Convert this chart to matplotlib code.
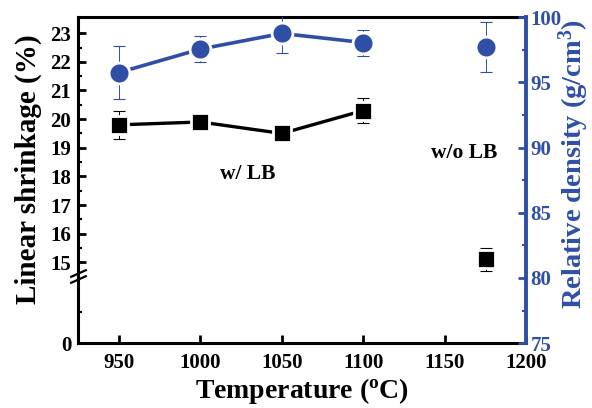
import numpy as np
import matplotlib
matplotlib.use("Agg")
import matplotlib.pyplot as plt
from matplotlib.ticker import FixedLocator

plt.rcParams["font.family"] = "Liberation Serif"
plt.rcParams["font.weight"] = "bold"
plt.rcParams["mathtext.fontset"] = "custom"
plt.rcParams["mathtext.rm"] = "Liberation Serif:bold"
plt.rcParams["mathtext.bf"] = "Liberation Serif:bold"
plt.rcParams["mathtext.it"] = "Liberation Serif:bold"

BLUE = "#2f4fa6"

# data: with LB binder (950-1100 C) and without (1175 C)
temp_lb = [950, 1000, 1050, 1100]
shrink_lb = [19.8, 19.9, 19.5, 20.3]
shrink_lb_err = [0.5, 0.0, 0.0, 0.45]
dens_lb = [95.75, 97.55, 98.75, 98.05]
dens_lb_err = [2.0, 1.0, 1.5, 1.0]

temp_nolb = [1175]
shrink_nolb = [15.1]
shrink_nolb_err = [0.4]
dens_nolb = [97.7]
dens_nolb_err = [1.9]

left_ticks = [0, 15, 16, 17, 18, 19, 20, 21, 22, 23]
right_ticks = [75, 80, 85, 90, 95, 100]
x_ticks = [950, 1000, 1050, 1100, 1150, 1200]

# broken left axis: everything below the break is squeezed
BRK = 14.44
LOW = 12.18


def fwd(v):
    v = np.asarray(v, dtype=float)
    return np.where(v >= BRK, v, LOW + v * (BRK - LOW) / BRK)


def inv(u):
    u = np.asarray(u, dtype=float)
    return np.where(u >= BRK, u, (u - LOW) * BRK / (BRK - LOW))


fig = plt.figure(figsize=(5.92, 4.08), dpi=100)
ax = fig.add_axes([0.132, 0.159, 0.757, 0.799])
ax.set_yscale("function", functions=(fwd, inv))
ax2 = ax.twinx()

# shrinkage (squares)
ax.errorbar(temp_lb, shrink_lb, yerr=shrink_lb_err, fmt="none", ecolor="black",
            elinewidth=0.7, capsize=4, capthick=0.8, zorder=2)
ax.plot(temp_lb, shrink_lb, "-s", color="black", lw=2.4, ms=13,
        mec="white", mew=2, zorder=3)
ax.errorbar(temp_nolb, shrink_nolb, yerr=shrink_nolb_err, fmt="none", ecolor="black",
            elinewidth=0.7, capsize=4, capthick=0.8, zorder=2)
ax.plot(temp_nolb, shrink_nolb, "s", color="black", ms=13, mec="white", mew=2, zorder=3)

# relative density (circles)
ax2.errorbar(temp_lb, dens_lb, yerr=dens_lb_err, fmt="none", ecolor=BLUE,
             elinewidth=0.7, capsize=4, capthick=0.8, zorder=2)
ax2.plot(temp_lb, dens_lb, "-o", color=BLUE, lw=2.6, ms=15,
         mec="white", mew=2, zorder=3)
ax2.errorbar(temp_nolb, dens_nolb, yerr=dens_nolb_err, fmt="none", ecolor=BLUE,
             elinewidth=0.7, capsize=4, capthick=0.8, zorder=2)
ax2.plot(temp_nolb, dens_nolb, "o", color=BLUE, ms=15, mec="white", mew=2, zorder=3)

ax.set_xlim(925, 1200)
ax.set_ylim(0, 23.56)
ax2.set_ylim(75, 100)

ax.xaxis.set_major_locator(FixedLocator(x_ticks))
ax.yaxis.set_major_locator(FixedLocator(left_ticks))
ax.yaxis.set_minor_locator(FixedLocator([7] + list(np.arange(15.5, 23.5, 1.0))))
ax2.yaxis.set_major_locator(FixedLocator(right_ticks))
ax2.yaxis.set_minor_locator(FixedLocator(np.arange(77.5, 100, 5.0)))

ax.tick_params(axis="both", which="major", direction="in", length=6, width=2,
               labelsize=15)
ax.tick_params(axis="y", which="minor", direction="in", length=3, width=1.5)
ax.tick_params(axis="x", pad=7)
ax.tick_params(axis="y", pad=5)
ax2.tick_params(axis="y", which="major", direction="in", length=6, width=2,
                colors=BLUE, labelsize=15, pad=3)
ax2.tick_params(axis="y", which="minor", direction="in", length=3, width=1.5,
                colors=BLUE)

for s in ["left", "bottom", "top"]:
    ax.spines[s].set_linewidth(2.2)
ax2.spines["right"].set_color(BLUE)
ax2.spines["right"].set_linewidth(2.8)
ax2.spines["left"].set_visible(False)
ax2.spines["top"].set_visible(False)
ax2.spines["bottom"].set_visible(False)

# break marks on the left spine
tr = ax.get_yaxis_transform()
for yb in [14.62, 14.3]:
    ax.plot([0], [yb], transform=tr, marker=[(-1, -0.45), (1, 0.45)], ms=12,
            mew=1.6, color="black", clip_on=False, zorder=5)

ax.set_xlabel("Temperature ($^{\\rm o}$C)", fontsize=20, fontweight="bold",
              labelpad=2)
ax.set_ylabel("Linear shrinkage (%)", fontsize=21, fontweight="bold")
ax.yaxis.set_label_coords(-0.080, 0.534)
ax2.set_ylabel("Relative density (g/cm$^{3}$)", fontsize=20.5, fontweight="bold",
               color=BLUE)
ax2.yaxis.set_label_coords(1.067, 0.549)

ax.text(1029, 18.1, "w/ LB", fontsize=15.5, fontweight="bold", ha="center",
        va="center")
ax.text(1162, 18.8, "w/o LB", fontsize=15.5, fontweight="bold", ha="center",
        va="center")

fig.savefig("out.png", dpi=100)
